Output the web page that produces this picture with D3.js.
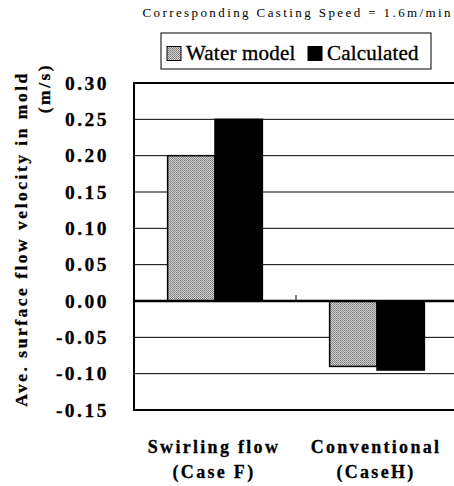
<!DOCTYPE html>
<html>
<head>
<meta charset="utf-8">
<script src="https://cdn.jsdelivr.net/npm/d3@7"></script>
<style>
  body { margin: 0; background: #fff; }
  svg { display: block; }
</style>
</head>
<body>
<div id="chart"></div>
<script>
const categories = ["Swirling flow|(Case F)", "Conventional|(CaseH)"];
const seriesNames = ["Water model", "Calculated"];
const waterModel = [0.20, -0.09];
const calculated = [0.25, -0.095];
const yTicks = [0.30, 0.25, 0.20, 0.15, 0.10, 0.05, 0.00, -0.05, -0.10, -0.15];

const width = 454, height = 486;
const plot = { left: 134, right: 458, top: 83, bottom: 410 };
const serif = "'Liberation Serif', serif";

const svg = d3.select("#chart").append("svg")
  .attr("width", width)
  .attr("height", height);

// heavy serif text, like the scanned labels
function heavy(sel, w) {
  sel.style("font-family", serif)
    .style("font-weight", "bold")
    .attr("stroke", "#000")
    .attr("stroke-width", w)
    .attr("stroke-linejoin", "round");
}

// speckled gray fill for the water model bars
const defs = svg.append("defs");
const pat = defs.append("pattern")
  .attr("id", "speckle")
  .attr("patternUnits", "userSpaceOnUse")
  .attr("width", 2).attr("height", 2);
pat.append("rect").attr("width", 2).attr("height", 2).attr("fill", "#d4d4d4");
pat.append("rect").attr("width", 1).attr("height", 1).attr("fill", "#7a7a7a");
pat.append("rect").attr("x", 1).attr("y", 1).attr("width", 1).attr("height", 1).attr("fill", "#8c8c8c");

const x0 = d3.scaleBand()
  .domain(categories)
  .range([plot.left, plot.right]);

const x1 = d3.scaleBand()
  .domain(seriesNames)
  .range([0, x0.bandwidth()])
  .paddingInner(0)
  .paddingOuter(0.71);

const y = d3.scaleLinear()
  .domain([-0.15, 0.30])
  .range([plot.bottom, plot.top]);

// grid lines
svg.append("g")
  .selectAll("line")
  .data(yTicks)
  .join("line")
  .attr("x1", plot.left).attr("x2", plot.right)
  .attr("y1", d => y(d)).attr("y2", d => y(d))
  .attr("stroke", "#000")
  .attr("stroke-width", 1);

// bars
const fills = { "Water model": "url(#speckle)", "Calculated": "#000" };
const rows = categories.map((c, i) => ({ c, vals: [waterModel[i], calculated[i]] }));

svg.append("g")
  .selectAll("g")
  .data(rows)
  .join("g")
  .attr("transform", d => `translate(${x0(d.c)},0)`)
  .selectAll("rect")
  .data(d => d.vals.map((v, j) => ({ key: seriesNames[j], v })))
  .join("rect")
  .attr("x", d => x1(d.key))
  .attr("width", x1.bandwidth())
  .attr("y", d => y(Math.max(0, d.v)))
  .attr("height", d => Math.abs(y(d.v) - y(0)))
  .attr("fill", d => fills[d.key])
  .attr("stroke", "#000")
  .attr("stroke-width", 1.5);

// zero axis with category separator tick
svg.append("line")
  .attr("x1", plot.left).attr("x2", plot.right)
  .attr("y1", y(0)).attr("y2", y(0))
  .attr("stroke", "#000").attr("stroke-width", 2.5);

svg.append("line")
  .attr("x1", x0(categories[1])).attr("x2", x0(categories[1]))
  .attr("y1", y(0)).attr("y2", y(0) - 6)
  .attr("stroke", "#000").attr("stroke-width", 1);

// plot frame
svg.append("rect")
  .attr("x", plot.left).attr("y", plot.top)
  .attr("width", plot.right - plot.left)
  .attr("height", plot.bottom - plot.top)
  .attr("fill", "none")
  .attr("stroke", "#000")
  .attr("stroke-width", 2);

// y axis labels
const yAxis = d3.axisLeft(y)
  .tickValues(yTicks)
  .tickSize(0)
  .tickPadding(25)
  .tickFormat(d => d3.format(".2f")(d).replace("−", "-"));

svg.append("g")
  .attr("transform", `translate(${plot.left},0)`)
  .call(yAxis)
  .call(g => g.select(".domain").remove())
  .call(g => g.selectAll("text")
    .call(heavy, 0.3)
    .style("font-size", "19.5px")
    .attr("letter-spacing", 2.5));

// y axis title
svg.append("text")
  .attr("transform", "translate(27,239) rotate(-90)")
  .attr("text-anchor", "middle")
  .call(heavy, 0.3)
  .style("font-size", "17.5px")
  .attr("letter-spacing", 2.5)
  .text("Ave. surface flow velocity in mold");

svg.append("text")
  .attr("transform", "translate(50,88) rotate(-90)")
  .attr("text-anchor", "middle")
  .call(heavy, 0.3)
  .style("font-size", "17.5px")
  .attr("letter-spacing", 2.5)
  .text("(m/s)");

// category labels
const catLabels = svg.append("g")
  .selectAll("text")
  .data(categories)
  .join("text")
  .attr("x", d => x0(d) + x0.bandwidth() / 2 - 1)
  .attr("y", 453)
  .attr("text-anchor", "middle")
  .call(heavy, 0.3)
  .style("font-size", "18px")
  .attr("letter-spacing", 2.3);

catLabels.selectAll("tspan")
  .data(d => d.split("|"))
  .join("tspan")
  .attr("x", function () { return d3.select(this.parentNode).attr("x"); })
  .attr("dy", (d, i) => i === 0 ? 0 : 25)
  .text(d => d);

// legend
const legend = svg.append("g");
legend.append("rect")
  .attr("x", 161).attr("y", 33)
  .attr("width", 270).attr("height", 36)
  .attr("fill", "#fff")
  .attr("stroke", "#000")
  .attr("stroke-width", 1);

const legendX = [167, 308];
seriesNames.forEach((name, i) => {
  legend.append("rect")
    .attr("x", legendX[i]).attr("y", 46.5)
    .attr("width", 14).attr("height", 14)
    .attr("fill", fills[name])
    .attr("stroke", "#000")
    .attr("stroke-width", 1);
  legend.append("text")
    .attr("x", legendX[i] + 19).attr("y", 60)
    .style("font-family", serif)
    .style("font-size", "21px")
    .attr("stroke", "#000")
    .attr("stroke-width", 0.35)
    .attr("letter-spacing", 0.2)
    .text(name);
});

// top note
svg.append("text")
  .attr("x", 453).attr("y", 17)
  .attr("text-anchor", "end")
  .style("font-family", serif)
  .style("font-size", "13px")
  .attr("letter-spacing", 2.4)
  .text("Corresponding Casting Speed = 1.6m/min");
</script>
</body>
</html>
